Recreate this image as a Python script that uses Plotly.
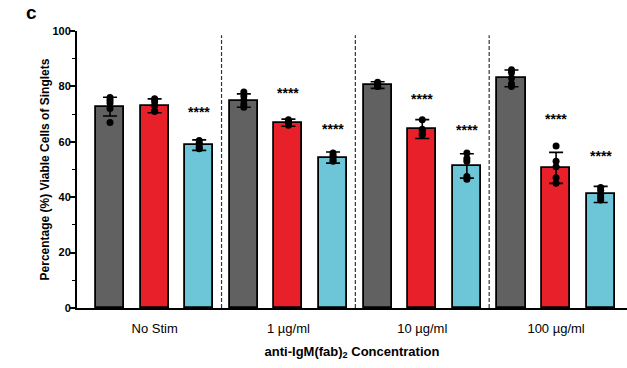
import plotly.graph_objects as go

groups = ["No Stim", "1 µg/ml", "10 µg/ml", "100 µg/ml"]
series_names = ["Control", "Treatment A", "Treatment B"]
colors = ["#616161", "#E8202A", "#6CC6D8"]

# means per series (one value per group)
means = [
    [72.7, 74.9, 80.5, 82.9],   # gray
    [73.0, 66.9, 64.6, 50.6],   # red
    [58.8, 54.3, 51.3, 41.0],   # cyan
]
sds = [
    [3.4, 2.4, 1.2, 3.0],
    [2.5, 1.3, 3.4, 5.6],
    [1.9, 2.0, 4.4, 2.9],
]
points = [
    [[76, 75, 74, 72, 67], [78, 76.5, 75, 73.5, 72.5], [81.5, 81, 80.5, 80, 80], [86, 85, 83, 81, 80]],
    [[75.5, 74.5, 73, 71, 71], [68, 67.5, 67, 66.5, 66], [68, 64.5, 64, 63, 62.5], [58.5, 53, 51, 47, 45]],
    [[60.5, 59.5, 59, 58, 57.5], [56, 55, 54.5, 53.5, 53], [56, 54, 53, 47.5, 46.5], [43.5, 42.5, 41, 40, 39]],
]
# significance mark height per bar (None = no mark)
sig_y = [
    [None, None, None, None],
    [None, 77.7, 75.3, 68.1],
    [70.8, 64.5, 64.4, 54.9],
]
y_ticks = [0, 20, 40, 60, 80, 100]

fig = go.Figure()
n_series = len(series_names)
for s in range(n_series):
    xs = [g * n_series + s for g in range(len(groups))]
    fig.add_trace(go.Bar(
        x=xs, y=means[s], width=0.63,
        marker=dict(color=colors[s], line=dict(color="black", width=1.8)),
        error_y=dict(type="data", array=sds[s], color="black", thickness=1.6, width=7),
        name=series_names[s], showlegend=False,
    ))
for s in range(n_series):
    px, py = [], []
    for g in range(len(groups)):
        for v in points[s][g]:
            px.append(g * n_series + s)
            py.append(v)
    fig.add_trace(go.Scatter(
        x=px, y=py, mode="markers",
        marker=dict(color="black", size=7),
        showlegend=False, hoverinfo="skip",
    ))

annotations = []
for s in range(n_series):
    for g in range(len(groups)):
        if sig_y[s][g] is not None:
            annotations.append(dict(
                x=g * n_series + s, y=sig_y[s][g], text="<b>****</b>", showarrow=False,
                font=dict(size=14, color="black", family="Liberation Sans"),
                xref="x", yref="y", yanchor="middle",
            ))
annotations.append(dict(
    x=-0.096, y=1.112, xref="paper", yref="paper", text="<b>c</b>",
    showarrow=False, font=dict(size=19, color="black", family="Liberation Sans"),
    xanchor="left", yanchor="top",
))

shapes = []
for g in range(1, len(groups)):
    xd = g * n_series - 0.5
    shapes.append(dict(type="line", xref="x", yref="y", x0=xd, x1=xd, y0=0, y1=98.5,
                       line=dict(color="#333333", width=1.2, dash="4px,2px")))

fig.update_layout(
    width=627, height=368,
    margin=dict(l=77, r=0, t=31, b=60),
    plot_bgcolor="white", paper_bgcolor="white",
    font=dict(family="Liberation Sans", color="black"),
    bargap=0, annotations=annotations, shapes=shapes,
    xaxis=dict(
        range=[-0.74, 11.59],
        tickvals=[g * n_series + 1 for g in range(len(groups))],
        ticktext=groups, ticks="", ticklabelstandoff=7,
        tickfont=dict(size=13),
        showline=True, linecolor="black", linewidth=2,
        showgrid=False, zeroline=False, automargin=False,
        title=dict(text="<b>anti-IgM(fab)<sub>2</sub> Concentration</b>", font=dict(size=13), standoff=12),
    ),
    yaxis=dict(
        range=[0, 100], tickvals=y_ticks,
        ticktext=[f"<b>{t}</b>" for t in y_ticks],
        tickfont=dict(size=11), ticklabelstandoff=-3,
        ticks="outside", ticklen=5, tickwidth=1.6, tickcolor="black",
        minor=dict(tickvals=[10, 30, 50, 70, 90], ticks="outside", ticklen=3, tickwidth=1.4, tickcolor="black"),
        showline=True, linecolor="black", linewidth=2,
        showgrid=False, zeroline=False, automargin=False,
        title=dict(text="<b>Percentage (%) Viable Cells of Singlets</b>", font=dict(size=12), standoff=0),
    ),
)

fig.write_html("out.html", config={"displayModeBar": False},
               post_script="document.body.style.margin='0';document.body.style.overflow='hidden';")
